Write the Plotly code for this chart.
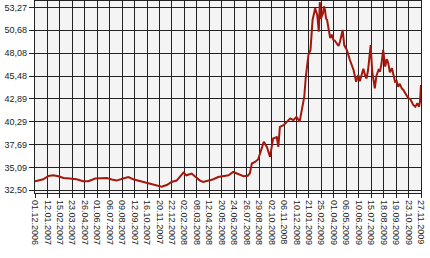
import plotly.graph_objects as go

# trading-day index (24 trading days between labelled ticks) and price
day_index = [0, 16, 26, 35, 45, 55, 67, 80, 93, 103, 116, 129, 138, 148, 157, 170,
             180, 189, 202, 215, 228, 238, 244, 254, 263, 273, 283, 286, 292, 302,
             308, 318, 324, 334, 344, 353, 363, 373, 382, 392, 402, 410, 414, 418,
             424, 430, 437, 441, 447, 453, 459, 466, 469, 472, 479, 485, 492, 498,
             504, 510, 514, 519, 522, 527, 531, 535, 540, 544, 547, 549, 551, 555,
             557, 559, 561, 563, 566, 569, 572, 575, 578, 582, 585, 588, 590, 593,
             596, 601, 607, 614, 619, 623, 626, 630, 633, 636, 639, 642, 647, 650,
             655, 658, 662, 665, 668, 671, 675, 678, 681, 684, 688, 691, 694, 697,
             700, 703, 707, 710, 713, 716, 720, 723, 726, 729, 733, 737, 740, 742,
             744]
price = [33.53, 33.75, 34.13, 34.21, 34.10, 33.90, 33.83, 33.75, 33.53, 33.53,
         33.83, 33.90, 33.90, 33.72, 33.60, 33.83, 34.00, 33.75, 33.53, 33.33,
         33.15, 32.96, 32.90, 33.10, 33.45, 33.60, 34.40, 34.50, 34.20, 34.40,
         34.10, 33.60, 33.45, 33.60, 33.75, 34.00, 34.10, 34.20, 34.58, 34.30,
         34.10, 34.15, 34.40, 35.54, 35.72, 36.00, 37.43, 38.00, 37.43, 36.30,
         38.39, 38.54, 37.43, 39.71, 39.90, 40.28, 40.67, 40.47, 40.85, 40.28,
         41.61, 43.13, 45.40, 47.88, 48.45, 51.86, 53.19, 52.43, 50.53, 53.90,
         52.00, 52.60, 53.40, 52.98, 52.00, 51.86, 50.80, 49.80, 50.20, 49.60,
         49.50, 49.10, 48.90, 49.40, 50.00, 50.72, 49.00, 48.45, 47.30, 46.17,
         44.83, 45.60, 44.90, 45.79, 46.30, 45.60, 45.20, 46.17, 49.00, 45.97,
         44.08, 45.50, 46.17, 46.00, 46.93, 48.45, 46.55, 47.40, 46.93, 45.90,
         46.36, 45.60, 44.83, 44.90, 44.26, 44.60, 44.08, 43.90, 43.51, 43.30,
         42.94, 42.90, 42.56, 42.20, 41.99, 42.38, 42.00, 42.56, 44.46]

x_tick_labels = ["01.12.2006", "12.01.2007", "15.02.2007", "23.03.2007", "26.04.2007",
                 "01.06.2007", "06.07.2007", "09.08.2007", "12.09.2007", "16.10.2007",
                 "20.11.2007", "22.12.2007", "02.02.2008", "08.03.2008", "12.04.2008",
                 "20.05.2008", "24.06.2008", "26.07.2008", "29.08.2008", "02.10.2008",
                 "06.11.2008", "10.12.2008", "21.01.2009", "25.02.2009", "01.04.2009",
                 "06.05.2009", "10.06.2009", "15.07.2009", "18.08.2009", "19.09.2009",
                 "23.10.2009", "27.11.2009"]
days_per_tick = 24
y_tick_values = [32.50, 35.09, 37.69, 40.29, 42.89, 45.48, 48.08, 50.68, 53.27]
y_tick_labels = ["32,50", "35,09", "37,69", "40,29", "42,89", "45,48", "48,08", "50,68", "53,27"]

x_tick_values = [i * days_per_tick for i in range(len(x_tick_labels))]

grid = "#222222"
fig = go.Figure(go.Scatter(
    x=day_index, y=price, mode="lines",
    line=dict(color="#a3180d", width=2),
    hoverinfo="skip",
))
fig.update_layout(
    width=430, height=258,
    margin=dict(l=35, r=9, t=1, b=65),
    paper_bgcolor="white", plot_bgcolor="#f4f4f4",
    showlegend=False,
    font=dict(family="Liberation Sans", size=9, color="#222222"),
)
fig.update_xaxes(
    range=[0, x_tick_values[-1]],
    tickmode="array", tickvals=x_tick_values, ticktext=x_tick_labels,
    tickangle=90, ticks="outside", ticklen=4, tickcolor=grid, tickwidth=1.3,
    showgrid=True, gridcolor=grid, gridwidth=1.4,
    showline=True, linecolor=grid, linewidth=1.4, mirror=True,
    zeroline=False,
)
fig.update_yaxes(
    range=[32.19, 54.01],
    tickmode="array", tickvals=y_tick_values, ticktext=y_tick_labels,
    ticks="outside", ticklen=5, tickcolor=grid, tickwidth=1.3,
    showgrid=True, gridcolor=grid, gridwidth=1.4,
    showline=True, linecolor=grid, linewidth=1.4, mirror=True,
    zeroline=False,
)
fig.write_html("out.html", config={"displayModeBar": False})
